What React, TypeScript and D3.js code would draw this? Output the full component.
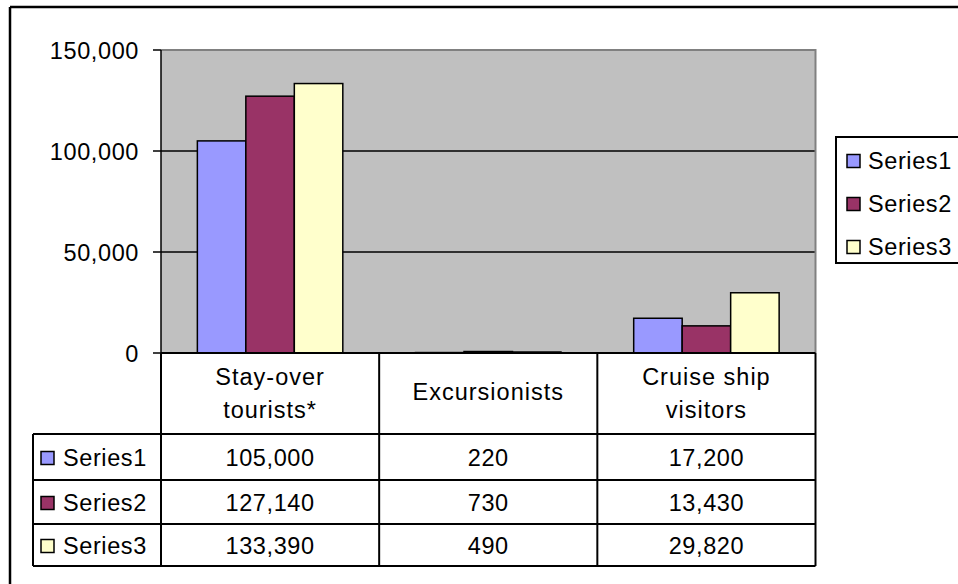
import React from 'react';
import * as d3 from 'd3';

// Visitor arrivals by category, three series, with a data table under the axis
const categories = ['Stay-over tourists*', 'Excursionists', 'Cruise ship visitors'];
const categoryLines = [['Stay-over', 'tourists*'], ['Excursionists'], ['Cruise ship', 'visitors']];
const seriesNames = ['Series1', 'Series2', 'Series3'];
const series1 = [105000, 220, 17200];
const series2 = [127140, 730, 13430];
const series3 = [133390, 490, 29820];
const seriesColors = ['#9999FF', '#993366', '#FFFFCC'];
const yTicks = [0, 50000, 100000, 150000];
const yMax = 150000;

const seriesValues = [series1, series2, series3];

const W = 958;
const H = 584;
const plot = { left: 161, top: 50, right: 815.5, bottom: 353 };
const rowLines = [434, 480, 524, 566];
const tableLeft = 33;
const FONT = '"Liberation Sans", Arial, sans-serif';
const FS = 23.5;

export default function App() {
  const x = d3.scaleBand<string>().domain(categories).range([plot.left, plot.right]).paddingInner(0).paddingOuter(0);
  const xs = d3.scaleBand<string>().domain(seriesNames).range([0, x.bandwidth()]).paddingInner(0).paddingOuter(0.75);
  const y = d3.scaleLinear().domain([0, yMax]).range([plot.bottom, plot.top]);
  const fmt = d3.format(',');

  const colEdges = [plot.left, ...categories.map((c) => (x(c) as number) + x.bandwidth())];

  return (
    <svg width={W} height={H} style={{ position: 'absolute', left: 0, top: 0, background: '#fff' }} fontFamily={FONT}>
      {/* chart frame */}
      <line x1={10} y1={7} x2={W} y2={7} stroke="#000" strokeWidth={2.5} />
      <line x1={10} y1={7} x2={10} y2={H} stroke="#000" strokeWidth={2.5} />

      {/* plot area */}
      <rect x={plot.left} y={plot.top} width={plot.right - plot.left} height={plot.bottom - plot.top} fill="#C0C0C0" />
      {yTicks.filter((t) => t > 0 && t < yMax).map((t) => (
        <line key={t} x1={plot.left} x2={plot.right} y1={y(t)} y2={y(t)} stroke="#000" strokeWidth={1.5} />
      ))}
      <polyline
        points={`${plot.left},${plot.top} ${plot.right},${plot.top} ${plot.right},${plot.bottom}`}
        fill="none"
        stroke="#808080"
        strokeWidth={2}
      />

      {/* bars */}
      {categories.map((c, ci) =>
        seriesNames.map((s, si) => {
          const v = seriesValues[si][ci];
          const bx = (x(c) as number) + (xs(s) as number);
          const top = y(v);
          return (
            <rect
              key={c + s}
              x={bx}
              y={top}
              width={xs.bandwidth()}
              height={Math.max(0, plot.bottom - top)}
              fill={seriesColors[si]}
              stroke="#000"
              strokeWidth={1.5}
            />
          );
        })
      )}

      {/* value axis */}
      <line x1={plot.left} x2={plot.left} y1={plot.top} y2={plot.bottom} stroke="#000" strokeWidth={1.5} />
      {yTicks.map((t) => (
        <g key={t}>
          <line x1={plot.left - 8} x2={plot.left} y1={y(t)} y2={y(t)} stroke="#000" strokeWidth={1.5} />
          <text x={139} y={y(t) + 8.5} textAnchor="end" fontSize={FS} letterSpacing={0.6}>
            {fmt(t)}
          </text>
        </g>
      ))}

      {/* data table */}
      <line x1={plot.left} x2={plot.right} y1={plot.bottom} y2={plot.bottom} stroke="#000" strokeWidth={2} />
      {rowLines.map((ry) => (
        <line key={ry} x1={tableLeft} x2={plot.right} y1={ry} y2={ry} stroke="#000" strokeWidth={2} />
      ))}
      <line x1={tableLeft} x2={tableLeft} y1={rowLines[0]} y2={rowLines[3]} stroke="#000" strokeWidth={2} />
      {colEdges.map((cx) => (
        <line key={cx} x1={cx} x2={cx} y1={plot.bottom} y2={rowLines[3]} stroke="#000" strokeWidth={2} />
      ))}

      {categories.map((c, ci) => {
        const cx = (x(c) as number) + x.bandwidth() / 2;
        const lines = categoryLines[ci];
        const baselines = lines.length === 2 ? [385, 418] : [400];
        return lines.map((ln, li) => (
          <text key={c + li} x={cx} y={baselines[li]} textAnchor="middle" fontSize={FS} letterSpacing={1}>
            {ln}
          </text>
        ));
      })}

      {seriesNames.map((s, si) => {
        const top = rowLines[si];
        const bot = rowLines[si + 1];
        const mid = (top + bot) / 2 + 1;
        return (
          <g key={s}>
            <rect x={41} y={mid - 6.5} width={13} height={13} fill={seriesColors[si]} stroke="#000" strokeWidth={1.5} />
            <text x={63} y={mid + 8.4} fontSize={FS} letterSpacing={0.6}>
              {s}
            </text>
            {categories.map((c, ci) => (
              <text
                key={c}
                x={(x(c) as number) + x.bandwidth() / 2}
                y={mid + 8.4}
                textAnchor="middle"
                fontSize={FS}
                letterSpacing={0.6}
              >
                {fmt(seriesValues[si][ci])}
              </text>
            ))}
          </g>
        );
      })}

      {/* legend */}
      <rect x={836} y={137} width={140} height={126} fill="#fff" stroke="#000" strokeWidth={2} />
      {seriesNames.map((s, si) => {
        const cy = 161 + si * 43;
        return (
          <g key={s}>
            <rect x={847} y={cy - 6.5} width={13} height={13} fill={seriesColors[si]} stroke="#000" strokeWidth={1.5} />
            <text x={868} y={cy + 8.4} fontSize={FS} letterSpacing={0.6}>
              {s}
            </text>
          </g>
        );
      })}
    </svg>
  );
}
